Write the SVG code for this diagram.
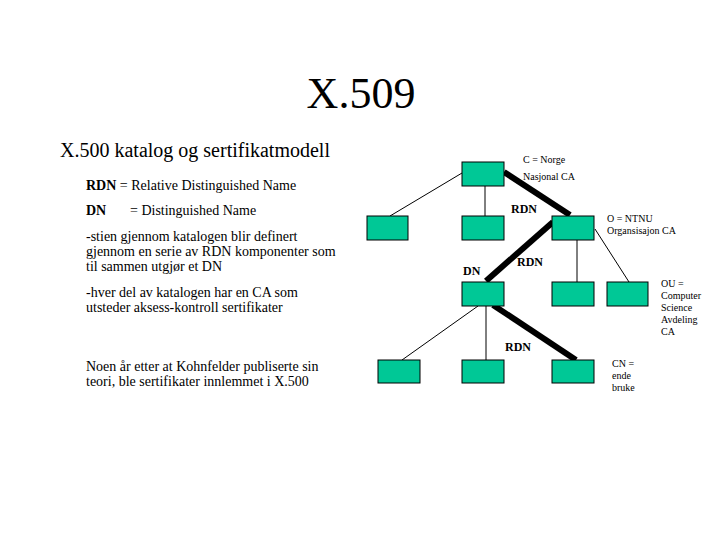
<svg xmlns="http://www.w3.org/2000/svg" width="720" height="540" viewBox="0 0 720 540">
<style>
text{font-family:"Liberation Serif","Times New Roman",serif;fill:#000}
.t{font-size:14px}
.s{font-size:10px}
.b{font-size:12px;font-weight:bold}
.box{fill:#00C896;stroke:#000;stroke-width:1}
.thin{stroke:#000;stroke-width:1;fill:none}
.thick{stroke:#000;stroke-width:6;fill:none}
</style>
<rect width="720" height="540" fill="#fff"/>
<text x="361" y="108" text-anchor="middle" style="font-size:44px">X.509</text>
<text x="60" y="157" style="font-size:20px">X.500 katalog og sertifikatmodell</text>
<text class="t" x="86" y="190"><tspan font-weight="bold">RDN</tspan> = Relative Distinguished Name</text>
<text class="t" x="86" y="215"><tspan font-weight="bold">DN</tspan><tspan x="130">= Distinguished Name</tspan></text>
<text class="t" x="86" y="241">-stien gjennom katalogen blir definert</text>
<text class="t" x="86" y="256">gjennom en serie av RDN komponenter som</text>
<text class="t" x="86" y="271">til sammen utgjør et DN</text>
<text class="t" x="86" y="297">-hver del av katalogen har en CA som</text>
<text class="t" x="86" y="312">utsteder aksess-kontroll sertifikater</text>
<text class="t" x="86" y="371">Noen år etter at Kohnfelder publiserte sin</text>
<text class="t" x="86" y="386">teori, ble sertifikater innlemmet i X.500</text>
<g id="connectors">
<line class="thin" x1="462" y1="173" x2="390" y2="216"/>
<line class="thin" x1="485" y1="186" x2="485" y2="216"/>
<line class="thick" x1="504" y1="172" x2="570" y2="215"/>
<line class="thick" x1="553" y1="222" x2="486" y2="281"/>
<line class="thin" x1="577" y1="240" x2="577" y2="282"/>
<line class="thin" x1="595" y1="229" x2="629" y2="282"/>
<line class="thin" x1="478" y1="306" x2="402" y2="360"/>
<line class="thin" x1="486" y1="306" x2="486" y2="360"/>
<line class="thick" x1="493" y1="305" x2="576" y2="360"/>
</g>
<g id="root"><rect class="box" x="462" y="162" width="42" height="24"/></g>
<g id="l2a"><rect class="box" x="367" y="216" width="41" height="24"/></g>
<g id="l2b"><rect class="box" x="462" y="216" width="42" height="24"/></g>
<g id="ntnu"><rect class="box" x="552" y="216" width="42" height="24"/></g>
<g id="dn"><rect class="box" x="462" y="282" width="42" height="24"/></g>
<g id="l3b"><rect class="box" x="552" y="282" width="42" height="24"/></g>
<g id="ou"><rect class="box" x="607" y="282" width="41" height="24"/></g>
<g id="l4a"><rect class="box" x="378" y="360" width="42" height="23"/></g>
<g id="l4b"><rect class="box" x="462" y="360" width="42" height="23"/></g>
<g id="cn"><rect class="box" x="552" y="360" width="42" height="23"/></g>
<text class="s" x="523" y="163">C = Norge</text>
<text class="s" x="523" y="180">Nasjonal CA</text>
<text class="b" x="511" y="213">RDN</text>
<text class="s" x="607" y="222">O = NTNU</text>
<text class="s" x="607" y="234">Organsisajon CA</text>
<text class="b" x="463" y="275">DN</text>
<text class="b" x="517" y="266">RDN</text>
<text class="s" x="661" y="287">OU =</text>
<text class="s" x="661" y="299">Computer</text>
<text class="s" x="661" y="311">Science</text>
<text class="s" x="661" y="323">Avdeling</text>
<text class="s" x="661" y="335">CA</text>
<text class="b" x="505" y="351">RDN</text>
<text class="s" x="612" y="367">CN =</text>
<text class="s" x="612" y="379">ende</text>
<text class="s" x="612" y="391">bruke</text>
</svg>
